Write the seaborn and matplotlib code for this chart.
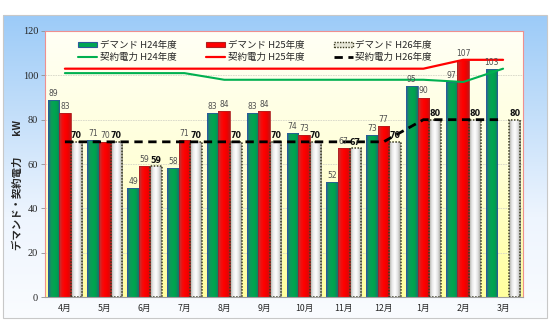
import numpy as np
import pandas as pd
import matplotlib
matplotlib.use("Agg")
import matplotlib.pyplot as plt
import seaborn as sns
from matplotlib.colors import LinearSegmentedColormap
from matplotlib.patches import Patch, Rectangle
from matplotlib.lines import Line2D

# ---------------- data ----------------
months = ["4月", "5月", "6月", "7月", "8月", "9月", "10月", "11月", "12月", "1月", "2月", "3月"]
demand_h24 = [89, 71, 49, 58, 83, 83, 74, 52, 73, 95, 97, 103]
demand_h25 = [83, 70, 59, 71, 84, 84, 73, 67, 77, 90, 107, np.nan]
demand_h26 = [70, 70, 59, 70, 70, 70, 70, 67, 70, 80, 80, 80]
contract_h24 = [101, 101, 101, 101, 98, 98, 98, 98, 98, 98, 97, 103]
contract_h25 = [103, 103, 103, 103, 103, 103, 103, 103, 103, 103, 107, 107]
contract_h26 = [70, 70, 70, 70, 70, 70, 70, 70, 70, 80, 80, 80]
demand_names = ["デマンド H24年度", "デマンド H25年度", "デマンド H26年度"]
contract_names = ["契約電力 H24年度", "契約電力 H25年度", "契約電力 H26年度"]
y_ticks = [0, 20, 40, 60, 80, 100, 120]
y_label = "デマンド・契約電力　　kW"

df = pd.DataFrame({
    "month": months * 3,
    "series": [demand_names[0]] * 12 + [demand_names[1]] * 12 + [demand_names[2]] * 12,
    "value": demand_h24 + demand_h25 + demand_h26,
})

sns.set_theme(style="white")
plt.rcParams["font.family"] = ["Noto Sans CJK JP", "DejaVu Sans"]

fig = plt.figure(figsize=(5.5, 3.27), dpi=100)

# outer gradient frame
bg = fig.add_axes([0, 0, 1, 1], zorder=-10)
bg.axis("off")
bg.set_xlim(0, 1)
bg.set_ylim(0, 1)
cmap_bg = LinearSegmentedColormap.from_list("bg", ["#9CCBF8", "#C4DFFA", "#EEF5FE", "#FAFCFF"])
bg.imshow(np.linspace(0, 1, 256).reshape(-1, 1), extent=[0.0055, 0.9945, 0.0275, 0.954],
          cmap=cmap_bg, aspect="auto", origin="upper")
bg.add_patch(Rectangle((0.0055, 0.0275), 0.989, 0.927, fill=False, ec="#c8c8c8", lw=0.8))

ax = fig.add_axes([0.0818, 0.0917, 0.8691, 0.8135])
cmap_area = LinearSegmentedColormap.from_list("area", ["#FFFFF6", "#FFFFD8", "#FFFF9E"])
ax.imshow(np.linspace(0, 1, 256).reshape(-1, 1), extent=[0, 1, 0, 1], transform=ax.transAxes,
          cmap=cmap_area, aspect="auto", origin="upper", zorder=0)

palette = {demand_names[0]: "#00A651", demand_names[1]: "#FF0000", demand_names[2]: "#EEEEEE"}
sns.barplot(data=df, x="month", y="value", hue="series", order=months, hue_order=demand_names,
            palette=palette, width=0.87, saturation=1, legend=False, ax=ax, zorder=2)

grad_cmaps = [
    LinearSegmentedColormap.from_list("g", ["#2C5A9C", "#109A58", "#00A651", "#00A04E", "#1E6E70"]),
    LinearSegmentedColormap.from_list("r", ["#A84040", "#F01010", "#FF0000", "#F00000", "#C01818"]),
    LinearSegmentedColormap.from_list("w", ["#A8A8A0", "#E8E8E8", "#FFFFFF", "#E0E0E0", "#A0A098"]),
]
edge_colors = ["#2C5A9C", "#B02020", "#3A3A20"]
hgrad = np.linspace(0, 1, 64).reshape(1, -1)
for i, cont in enumerate(ax.containers):
    for p in cont.patches:
        x0, w, h = p.get_x(), p.get_width(), p.get_height()
        if not np.isfinite(h) or h == 0:
            continue
        im = ax.imshow(hgrad, extent=[x0, x0 + w, 0, h], cmap=grad_cmaps[i], aspect="auto", zorder=2.1)
        im.set_clip_path(p)
        p.set_facecolor("none")
        p.set_zorder(2.2)
        if i == 2:
            p.set_edgecolor(edge_colors[i])
            p.set_linestyle((0, (1, 1)))
            p.set_linewidth(1.1)
        else:
            p.set_edgecolor(edge_colors[i])
            p.set_linewidth(0.6)
    labels = ["" if not np.isfinite(v) else f"{v:.0f}" for v in cont.datavalues]
    if i == 2:
        ax.bar_label(cont, labels=labels, padding=1, fontsize=5.8, fontweight="bold",
                     color="#111111", family="DejaVu Sans", zorder=5)
    else:
        ax.bar_label(cont, labels=labels, padding=1.5, fontsize=5.5, color="#505050",
                     family="DejaVu Sans", zorder=5)

xpos = np.arange(len(months))
ax.plot(xpos, contract_h24, color="#00B050", lw=1.5, zorder=3)
ax.plot(xpos, contract_h25, color="#FF0000", lw=1.6, zorder=3)
ax.plot(xpos, contract_h26, color="#000000", lw=2.0, ls=(0, (3, 2)), zorder=4)

ax.set_xlim(-0.5, len(months) - 0.5)
ax.set_ylim(0, 120)
ax.set_yticks(y_ticks)
ax.set_yticklabels([str(v) for v in y_ticks], fontsize=7.5, family="Liberation Serif")
ax.set_xticks(xpos)
ax.set_xticklabels(months, fontsize=6.3)
ax.set_xticks(np.arange(-0.5, len(months)), minor=True)
ax.tick_params(axis="x", which="major", length=0, pad=5)
ax.tick_params(axis="x", which="minor", length=3, color="#909090", width=0.6)
ax.tick_params(axis="y", which="major", length=3, color="#909090", width=0.6, pad=2, left=True)
ax.yaxis.grid(True, color="#d6d6c8", lw=0.6, ls=(0, (2, 1)))
ax.set_axisbelow(True)
for s in ["top", "right", "left"]:
    ax.spines[s].set_color("#EE9090")
    ax.spines[s].set_linewidth(0.8)
ax.spines["bottom"].set_color("#A0A0A0")
ax.spines["bottom"].set_linewidth(0.8)

ax.set_xlabel("")
ax.set_ylabel(y_label, fontsize=7.5, fontweight="bold")
ax.yaxis.set_label_coords(-0.046, 0.42)

handles = [
    Patch(facecolor="#00A651", edgecolor="#2C5A9C", lw=0.8),
    Line2D([], [], color="#00B050", lw=1.5),
    Patch(facecolor="#FF0000", edgecolor="#B02020", lw=0.8),
    Line2D([], [], color="#FF0000", lw=1.6),
    Patch(facecolor="#E6E6D6", edgecolor="#3A3A20", lw=1.0, ls=(0, (1, 1))),
    Line2D([], [], color="#000000", lw=2.0, ls=(0, (3, 2))),
]
leg_labels = [demand_names[0], contract_names[0], demand_names[1], contract_names[1],
              demand_names[2], contract_names[2]]
ax.legend(handles, leg_labels, ncol=3, loc="upper left", bbox_to_anchor=(0.058, 0.985),
          frameon=False, fontsize=6.8, handlelength=2.0, handleheight=0.5,
          columnspacing=3.1, labelspacing=0.35, handletextpad=0.3, borderaxespad=0.2)

fig.savefig("out.png", dpi=100)
